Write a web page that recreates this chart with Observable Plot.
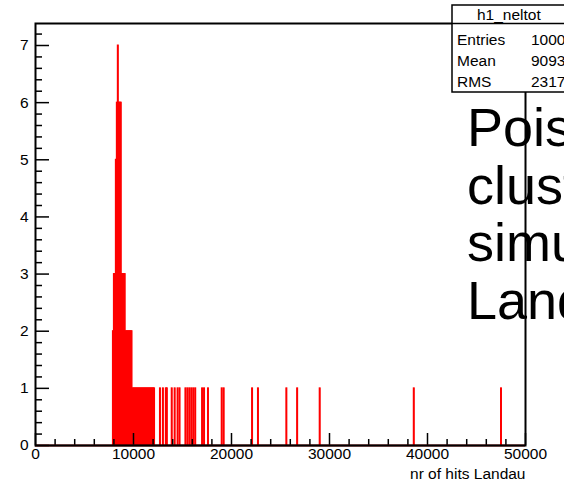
<!DOCTYPE html>
<html><head><meta charset="utf-8">
<script src="https://cdn.jsdelivr.net/npm/d3@7"></script>
<script src="https://cdn.jsdelivr.net/npm/@observablehq/plot@0.6"></script>
<style>
body{margin:0;background:#fff;}
#chart{position:relative;width:564px;height:483px;overflow:hidden;}
svg{font-family:"Liberation Sans",Arial,sans-serif;}
</style>
</head><body><div id="chart"></div>
<script>
// ---- data ----
const binWidth = 100;
const binStart = [7900, 8000, 8100, 8200, 8300, 8400, 8500, 8600, 8700, 8800, 8900, 9000, 9100,
  9200, 9300, 9400, 9500, 9600, 9700, 9800,
  9900, 10000, 10100, 10200, 10300, 10400, 10500, 10600, 10700, 10800, 10900, 11000,
  11100, 11200, 11300, 11400, 11500, 11600, 11700, 11800, 11900, 12000, 12100,
  12700, 13000, 13300, 13400, 13900, 14200, 14500, 14700, 15300, 15500, 15700, 15900,
  16100, 16300, 17000, 17200, 17600, 19000, 19200, 22100, 22700, 25600, 26700, 29000,
  38600, 47500];
const counts = [2, 3, 3, 5, 6, 7, 6, 6, 6, 3, 3, 3, 3,
  2, 2, 2, 2, 2, 2, 2,
  1, 1, 1, 1, 1, 1, 1, 1, 1, 1, 1, 1,
  1, 1, 1, 1, 1, 1, 1, 1, 1, 1, 1,
  1, 1, 1, 1, 1, 1, 1, 1, 1, 1, 1, 1,
  1, 1, 1, 1, 1, 1, 1, 1, 1, 1, 1, 1,
  1, 1];
const xTicks = [0, 10000, 20000, 30000, 40000, 50000];
const xTickLabels = ["0", "10000", "20000", "30000", "40000", "50000"];
const yTicks = [0, 1, 2, 3, 4, 5, 6, 7];
const yTickLabels = ["0", "1", "2", "3", "4", "5", "6", "7"];
const xAxisTitle = "nr of hits Landau";
const statsTitle = "h1_neltot";
const statsNames = ["Entries", "Mean", "RMS"];
const statsValues = ["1000", "9093", "2317"];
const noteLines = ["Poisson", "cluster", "simulation", "Landau"];

// ---- build ----
const bins = binStart.map((x0, i) => ({x0, x1: x0 + binWidth, n: counts[i]}));
const xMinor = d3.range(1, 25).filter(i => i % 5).map(i => i * 2000);
const yMinor = d3.range(1, 37).filter(i => i % 5).map(i => i / 5);

const W = 564, H = 483, mL = 35, mR = 39, mT = 23, mB = 38;
const fw = W - mL - mR, fh = H - mT - mB;

const svg = Plot.plot({
  width: W, height: H,
  marginLeft: mL, marginRight: mR, marginTop: mT, marginBottom: mB,
  style: {background: "white", fontFamily: "'Liberation Sans', Arial, sans-serif", overflow: "hidden"},
  x: {domain: [0, 50000], axis: null},
  y: {domain: [0, 7.385], axis: null},
  marks: [
    Plot.rectY(bins, {x1: "x0", x2: "x1", y: "n", fill: "#ff0000", stroke: "#ff0000", strokeWidth: 1}),
    Plot.ruleX(xTicks, {x: d => d, stroke: "black", strokeWidth: 1.5, insetTop: fh - 12}),
    Plot.ruleX(xMinor, {x: d => d, stroke: "black", strokeWidth: 1.5, insetTop: fh - 6}),
    Plot.ruleY(yTicks, {y: d => d, stroke: "black", strokeWidth: 1.5, insetRight: fw - 14}),
    Plot.ruleY(yMinor, {y: d => d, stroke: "black", strokeWidth: 1.5, insetRight: fw - 7}),
    Plot.ruleY([0], {stroke: "#7a0000", strokeWidth: 2}),
    Plot.frame({stroke: "black", strokeWidth: 2}),
    Plot.text(xTicks, {x: d => d, frameAnchor: "bottom", dy: 13, text: (d, i) => xTickLabels[i], fontSize: 15.5, fill: "black"}),
    Plot.text(yTicks, {y: d => d, frameAnchor: "left", dx: -7, textAnchor: "end", text: (d, i) => yTickLabels[i], fontSize: 15.5, fill: "black"}),
    Plot.text([xAxisTitle], {frameAnchor: "bottom-right", dy: 33, textAnchor: "end", fontSize: 15.5, fill: "black"})
  ]
});
document.getElementById("chart").appendChild(svg);

const s = d3.select(svg);
// big annotation text
const note = s.append("g").attr("font-family", "'Liberation Sans', Arial, sans-serif")
  .attr("font-size", 54).attr("fill", "black").attr("text-anchor", "start");
noteLines.forEach((t, i) => note.append("text").attr("x", 467).attr("y", 146 + i * 57.5).text(t));

// stats box
const sb = s.append("g").attr("font-family", "'Liberation Sans', Arial, sans-serif")
  .attr("fill", "black").attr("text-anchor", "start");
sb.append("rect").attr("x", 452).attr("y", 5).attr("width", 140).attr("height", 87)
  .attr("fill", "white").attr("stroke", "black").attr("stroke-width", 1.5);
sb.append("line").attr("x1", 452).attr("x2", 600).attr("y1", 23.5).attr("y2", 23.5)
  .attr("stroke", "black").attr("stroke-width", 1.5);
sb.append("text").attr("x", 477).attr("y", 20).attr("font-size", 15.5).text(statsTitle);
statsNames.forEach((t, i) => {
  sb.append("text").attr("x", 457).attr("y", 45 + i * 21).attr("font-size", 15.5).text(t);
  sb.append("text").attr("x", 531).attr("y", 45 + i * 21).attr("font-size", 15.5).text(statsValues[i]);
});
</script>
</body></html>
